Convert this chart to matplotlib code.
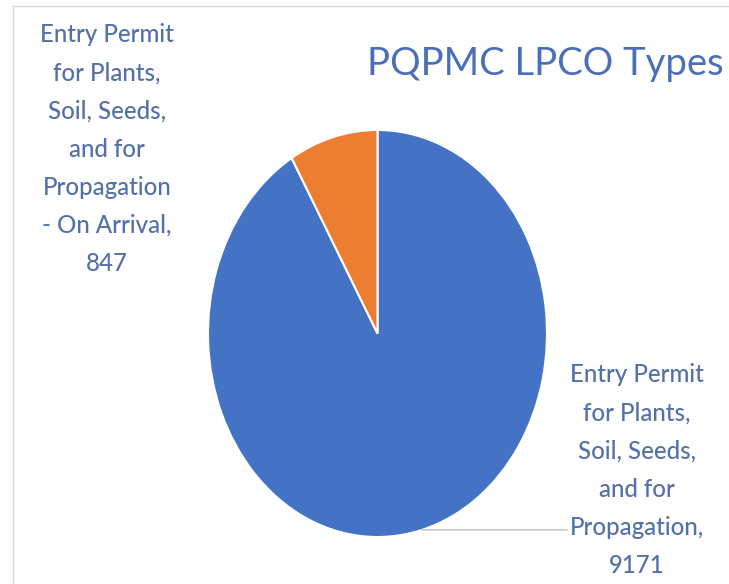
import numpy as np
import matplotlib.pyplot as plt

plt.rcParams['font.family'] = ['Lato', 'DejaVu Sans']

title = 'PQPMC LPCO Types'
labels = ['Entry Permit\nfor Plants,\nSoil, Seeds,\nand for\nPropagation,',
          'Entry Permit\nfor Plants,\nSoil, Seeds,\nand for\nPropagation\n- On Arrival,']
values = [9171, 847]
colors = ['#4472C4', '#ED7D31']

W, H = 729, 584
fig = plt.figure(figsize=(W / 100, H / 100), dpi=100)

# light frame of the chart area
fig.add_artist(plt.Line2D([13 / W, 1], [1 - 6 / H, 1 - 6 / H], color='#d9d9d9', lw=1))
fig.add_artist(plt.Line2D([13 / W, 13 / W], [0, 1 - 6 / H], color='#d9d9d9', lw=1))

# pie axes, stretched so the pie comes out as an ellipse like the source
ax = fig.add_axes([208 / W, 47 / H, 339 / W, 407 / H])
wedges, _ = ax.pie(values, colors=colors, startangle=90, counterclock=False,
                   wedgeprops=dict(edgecolor='white', linewidth=1.5))
ax.set_aspect('auto')
ax.set_xlim(-1, 1)
ax.set_ylim(-1, 1)
ax.axis('off')

text_color = '#5470a8'
fig.text(545 / W, 1 - 75 / H, title, ha='center', va='baseline',
         fontsize=27.5, color='#4a6eb8')

# leader lines from wedges to labels
line_color = '#c8c8c8'
blue_mid = np.deg2rad((wedges[0].theta1 + wedges[0].theta2) / 2)
p = (np.cos(blue_mid), np.sin(blue_mid))
py = ax.transData.transform(p)[1]
ax.annotate('', xy=p, xycoords='data',
            xytext=(567, py), textcoords='figure pixels',
            arrowprops=dict(arrowstyle='-', color=line_color, lw=1.2,
                            shrinkA=0, shrinkB=0))
org = np.deg2rad(wedges[1].theta1 - 1)
ax.annotate('', xy=(1.03 * np.cos(org), 1.03 * np.sin(org)), xycoords='data',
            xytext=(188, H - 194), textcoords='figure pixels',
            arrowprops=dict(arrowstyle='-', color=line_color, lw=1.2,
                            shrinkA=0, shrinkB=0))

fig.text(637 / W, 1 - 470 / H, f'{labels[0]}\n{values[0]}', ha='center', va='center',
         multialignment='center', fontsize=17.3, linespacing=1.79, color=text_color,
         fontweight='medium')
fig.text(107 / W, 1 - 149 / H, f'{labels[1]}\n{values[1]}', ha='center', va='center',
         multialignment='center', fontsize=17.3, linespacing=1.79, color=text_color,
         fontweight='medium')

fig.savefig('out.png', dpi=100)
